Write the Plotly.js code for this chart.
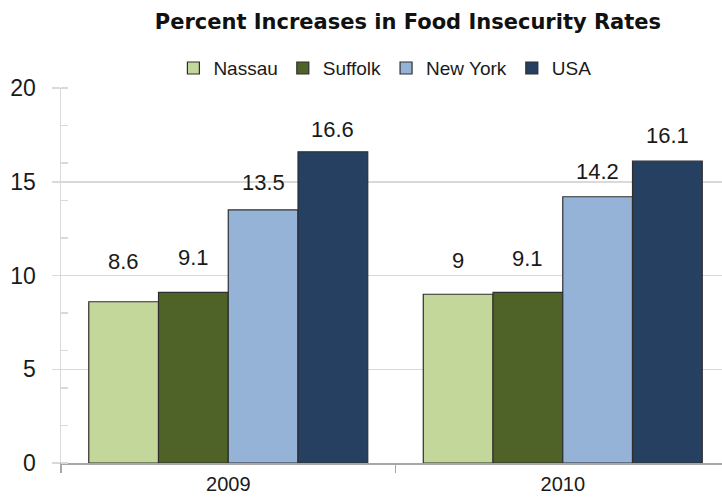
<!DOCTYPE html>
<html>
<head>
<meta charset="utf-8">
<script src="https://cdn.plot.ly/plotly-3.0.1.min.js"></script>
<style>
  html, body { margin: 0; padding: 0; background: #ffffff; }
  #chart { width: 722px; height: 498px; }
</style>
</head>
<body>
<div id="chart"></div>
<script>
// Food insecurity increases by region and year
const categories = ['2009', '2010'];
const seriesNames = ['Nassau', 'Suffolk', 'New York', 'USA'];
const nassau = [8.6, 9];
const suffolk = [9.1, 9.1];
const newYork = [13.5, 14.2];
const usa = [16.6, 16.1];
const yTickValues = [0, 5, 10, 15, 20];

// Styling
const seriesColors = ['#c4d79b', '#4f6228', '#95b3d7', '#254061'];
const labelLift = [[40, 34], [35, 34], [27, 25], [22, 26]]; // px above each bar top
const FONT = '"Liberation Sans", Arial, sans-serif';
const TITLE_FONT = '"DejaVu Sans", "Liberation Sans", Arial, sans-serif';
const W = 722, H = 498;
const margin = { l: 61, r: 0, t: 88, b: 35 };
const xRange = [-0.5, 1.476];
const bargap = 0.166;

const seriesValues = [nassau, suffolk, newYork, usa];

const traces = seriesValues.map((vals, i) => ({
  type: 'bar',
  name: seriesNames[i],
  x: categories,
  y: vals,
  marker: { color: seriesColors[i], line: { color: '#2e2e2e', width: 1.2 } },
  hoverinfo: 'x+y+name'
}));

// Value labels placed over each bar of the group (x given as category index)
const plotW = W - margin.l - margin.r;
const catPx = plotW / (xRange[1] - xRange[0]);
const barPx = catPx * (1 - bargap) / seriesValues.length;
const annotations = [];
seriesValues.forEach((vals, i) => {
  vals.forEach((v, j) => {
    annotations.push({
      x: j, y: v, xref: 'x', yref: 'y',
      text: String(v), showarrow: false,
      xshift: (i - (seriesValues.length - 1) / 2) * barPx,
      yshift: labelLift[i][j], yanchor: 'middle', xanchor: 'center',
      font: { family: FONT, size: 22, color: '#1a1a1a' }
    });
  });
});

const layout = {
  width: W, height: H,
  margin: margin,
  paper_bgcolor: '#ffffff', plot_bgcolor: '#ffffff',
  barmode: 'group', bargap: bargap, bargroupgap: 0,
  title: {
    text: '<b>Percent Increases in Food Insecurity Rates</b>',
    font: { family: TITLE_FONT, size: 21, color: '#111111' },
    xref: 'container', yref: 'container',
    x: 0.565, y: 0.956, xanchor: 'center', yanchor: 'middle'
  },
  showlegend: true,
  legend: {
    orientation: 'h', x: 0.49, y: 1.053, xanchor: 'center', yanchor: 'middle',
    font: { family: FONT, size: 19, color: '#1a1a1a' },
    traceorder: 'normal', itemwidth: 30, bgcolor: 'rgba(0,0,0,0)'
  },
  xaxis: {
    type: 'category', range: xRange,
    showline: true, linecolor: '#a6a6a6', linewidth: 1.5,
    ticks: 'outside', tickson: 'boundaries', ticklen: 8, tickcolor: '#a6a6a6', tickwidth: 1.5,
    ticklabelstandoff: 2,
    tickfont: { family: FONT, size: 20, color: '#1a1a1a' },
    showgrid: false, zeroline: false, fixedrange: true
  },
  yaxis: {
    range: [0, 20], tickmode: 'array', tickvals: yTickValues,
    showline: true, linecolor: '#d9d9d9', linewidth: 1.5,
    ticks: 'outside', ticklen: 8, tickcolor: '#d9d9d9', tickwidth: 1.5,
    ticklabelstandoff: 11,
    minor: { dtick: 2, ticks: 'inside', ticklen: 7, tickcolor: '#d9d9d9', tickwidth: 1.5, showgrid: false },
    showgrid: true, gridcolor: '#d9d9d9', gridwidth: 1.5,
    zeroline: false,
    tickfont: { family: FONT, size: 23, color: '#1a1a1a' },
    fixedrange: true
  },
  annotations: annotations
};

Plotly.newPlot('chart', traces, layout, { displayModeBar: false, staticPlot: true });
</script>
</body>
</html>
